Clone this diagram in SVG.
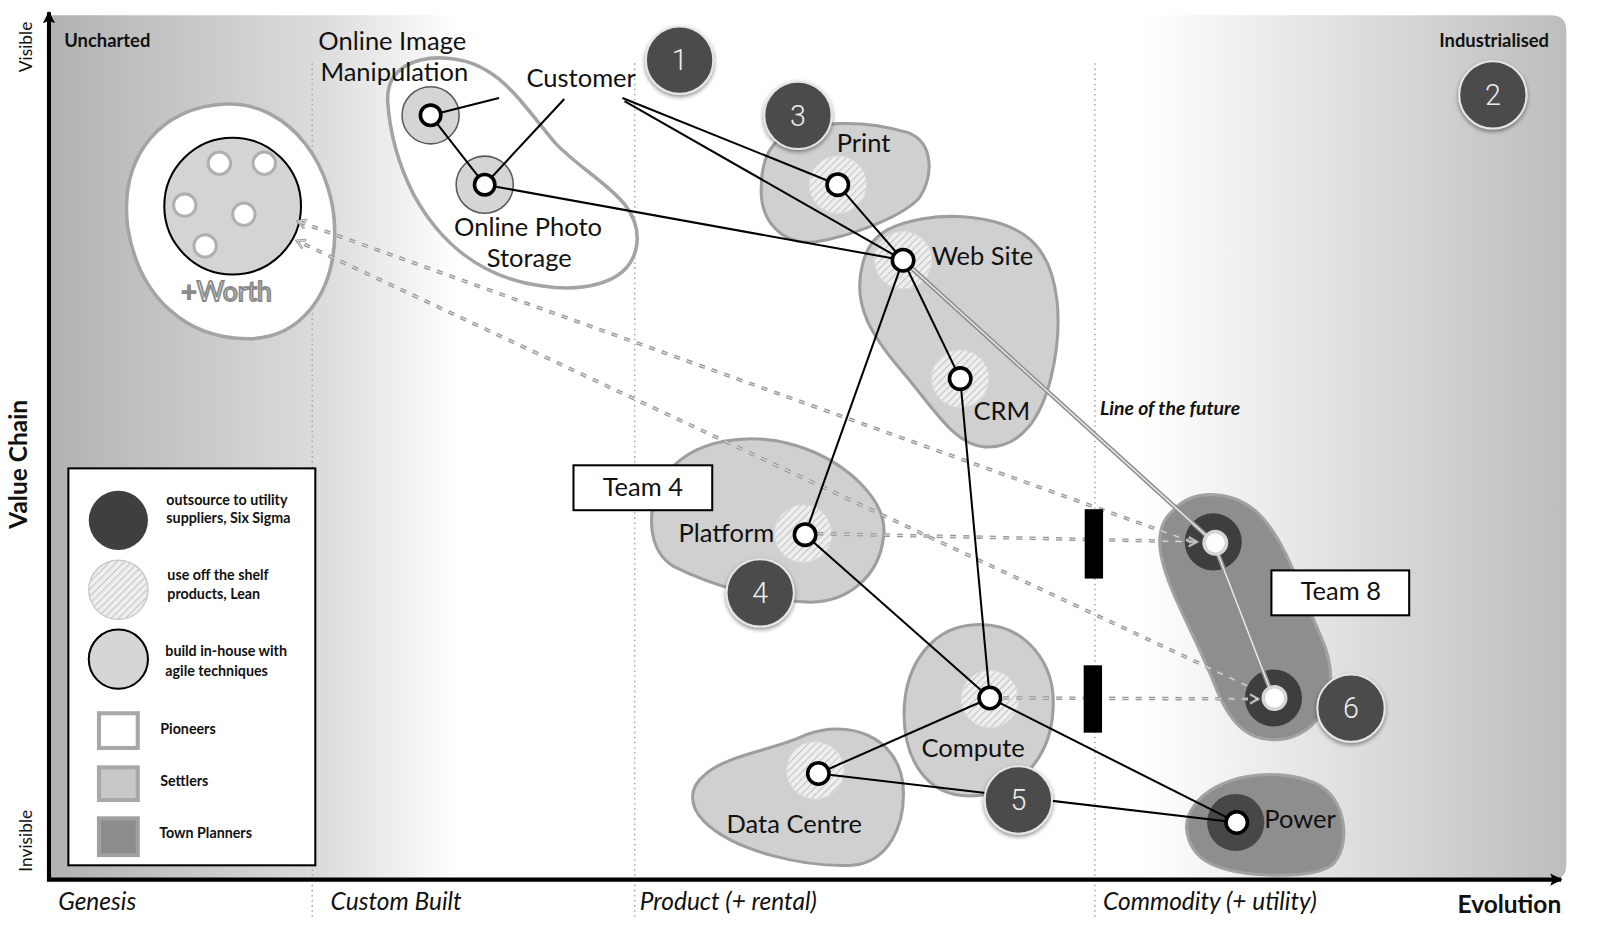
<svg xmlns="http://www.w3.org/2000/svg" width="1600" height="929" viewBox="0 0 1600 929">
<defs>
<linearGradient id="bg" x1="48" y1="0" x2="1535" y2="0" gradientUnits="userSpaceOnUse">
<stop offset="0" stop-color="#b2b2b2"/>
<stop offset="0.18" stop-color="#dcdcdc"/>
<stop offset="0.27" stop-color="#ffffff"/>
<stop offset="0.72" stop-color="#ffffff"/>
<stop offset="1" stop-color="#bdbdbd"/>
</linearGradient>
<pattern id="hatch" patternUnits="userSpaceOnUse" width="5" height="5" patternTransform="rotate(45)">
<rect width="5" height="5" fill="#eeeeee"/>
<line x1="0" y1="0" x2="0" y2="5" stroke="#c2c2c2" stroke-width="2"/>
</pattern>
<filter id="sh" x="-30%" y="-30%" width="160%" height="160%">
<feDropShadow dx="0" dy="2" stdDeviation="2" flood-color="#000" flood-opacity="0.45"/>
</filter>
<marker id="arr" viewBox="0 0 12 12" refX="10" refY="6" markerWidth="12" markerHeight="12" markerUnits="userSpaceOnUse" orient="auto">
<path d="M2,1.5 L10,6 L2,10.5" fill="none" stroke="#9a9a9a" stroke-width="2.5"/>
<path d="M2,1.5 L10,6 L2,10.5" fill="none" stroke="#e2e2e2" stroke-width="0.8"/>
</marker>
<marker id="axh" viewBox="0 0 10 10" refX="9" refY="5" markerWidth="12" markerHeight="12" markerUnits="userSpaceOnUse" orient="auto">
<path d="M0,0 L10,5 L0,10 L2,5 Z" fill="#000"/>
</marker>
<style>
.t{font-family:Lato,"Noto Sans","Liberation Sans",sans-serif;fill:#111;font-size:25px}
.axl{font-family:Lato,"Noto Sans",sans-serif;font-style:italic;font-size:24px;fill:#111}
.hd{font-family:Lato,"Noto Sans",sans-serif;font-weight:bold;font-size:18px;fill:#111}
.lg{font-family:Lato,"Noto Sans",sans-serif;font-weight:bold;font-size:14px;fill:#111}
.num{font-family:Roboto,"Liberation Sans",sans-serif;font-weight:300;font-size:28px;fill:#eeeeee;text-anchor:middle}
.settler{fill:#d0d0d0;stroke:#9e9e9e;stroke-width:3}
.pioneer{fill:#ffffff;stroke:#a4a4a4;stroke-width:3.5}
.planner{fill:#8e8e8e;stroke:#a2a2a2;stroke-width:3}
.hcirc{fill:url(#hatch);stroke:#dddddd;stroke-width:1}
.node{fill:#ffffff;stroke:#000;stroke-width:3.5}
.wnode{fill:#ffffff;stroke:#d6d6d6;stroke-width:3.5}
.dark{fill:#3e3e3e}
.badge{fill:#4b4b4b;stroke:#e6e6e6;stroke-width:2;filter:url(#sh)}
.solid{stroke:#000;stroke-width:2;fill:none}
.dash1{stroke:#989898;stroke-width:3.5;stroke-dasharray:6 7;fill:none}
.dash2{stroke:#e4e4e4;stroke-width:1;stroke-dasharray:6 7;fill:none}
.dot{stroke:#a8a8a8;stroke-width:1.5;stroke-dasharray:1.5 3.5}
.box{fill:#ffffff;stroke:#000;stroke-width:2}
</style>
</defs>
<rect width="1600" height="929" fill="#ffffff"/>
<g transform="scale(1.020408)">
<g id="background">
<path d="M48,15 H1520 Q1535,15 1535,30 V848 Q1535,862 1521,862 H48 Z" fill="url(#bg)"/>
<line class="dot" x1="306" y1="62" x2="306" y2="902"/>
<line class="dot" x1="622" y1="62" x2="622" y2="902"/>
<line class="dot" x1="1073" y1="62" x2="1073" y2="902"/>
</g>
<g id="axes">
<line x1="48" y1="862" x2="48" y2="12" stroke="#000" stroke-width="4" marker-end="url(#axh)"/>
<line x1="46" y1="862" x2="1530" y2="862" stroke="#000" stroke-width="4" marker-end="url(#axh)"/>
<text class="t" transform="translate(31,46) rotate(-90)" text-anchor="middle" style="font-size:17px">Visible</text>
<text class="t" transform="translate(31,824) rotate(-90)" text-anchor="middle" style="font-size:17px">Invisible</text>
<text class="t" transform="translate(26,455) rotate(-90)" text-anchor="middle" style="font-size:24px;font-weight:bold">Value Chain</text>
<text class="hd" x="63" y="46">Uncharted</text>
<text class="hd" x="1518" y="46" text-anchor="end">Industrialised</text>
<text class="axl" x="57" y="892">Genesis</text>
<text class="axl" x="324" y="892">Custom Built</text>
<text class="axl" x="627" y="892">Product (+ rental)</text>
<text class="axl" x="1081" y="892">Commodity (+ utility)</text>
<text class="hd" x="1530" y="895" text-anchor="end" style="font-size:24px">Evolution</text>
<text class="hd" x="1078" y="407" style="font-style:italic;font-size:19px">Line of the future</text>
</g>
<g id="legend">
<rect class="box" x="67" y="459" width="242" height="389"/>
<circle cx="116" cy="510" r="29" fill="#3f3f3f"/>
<text class="lg" x="163" y="495">outsource to utility</text>
<text class="lg" x="163" y="513">suppliers, Six Sigma</text>
<circle cx="116" cy="578" r="29" fill="url(#hatch)" stroke="#cccccc" stroke-width="1.5"/>
<text class="lg" x="164" y="568">use off the shelf</text>
<text class="lg" x="164" y="587">products, Lean</text>
<circle cx="116" cy="646" r="29" fill="#d6d6d6" stroke="#000" stroke-width="2"/>
<text class="lg" x="162" y="643">build in-house with</text>
<text class="lg" x="162" y="662">agile techniques</text>
<rect x="97" y="699" width="38" height="34" fill="#ffffff" stroke="#a8a8a8" stroke-width="4"/>
<text class="lg" x="157" y="719">Pioneers</text>
<rect x="97" y="752" width="38" height="32" fill="#c8c8c8" stroke="#a8a8a8" stroke-width="4"/>
<text class="lg" x="157" y="770">Settlers</text>
<rect x="97" y="802" width="38" height="36" fill="#8c8c8c" stroke="#a0a0a0" stroke-width="4"/>
<text class="lg" x="156" y="821">Town Planners</text>
</g>
<g id="worth">
<path class="pioneer" d="M222,102 C285,100 330,165 328,232 C326,292 292,332 243,332 C183,332 136,292 125,222 C117,152 158,104 222,102 Z"/>
<circle cx="228" cy="202" r="67" fill="#d4d4d4" stroke="#000" stroke-width="2"/>
<circle cx="215" cy="160" r="11" fill="#fff" stroke="#b0b0b0" stroke-width="3"/>
<circle cx="259" cy="160" r="11" fill="#fff" stroke="#b0b0b0" stroke-width="3"/>
<circle cx="181" cy="201" r="11" fill="#fff" stroke="#b0b0b0" stroke-width="3"/>
<circle cx="239" cy="210" r="11" fill="#fff" stroke="#b0b0b0" stroke-width="3"/>
<circle cx="201" cy="241" r="11" fill="#fff" stroke="#b0b0b0" stroke-width="3"/>
<text x="222" y="295" text-anchor="middle" style="font-family:Lato,'Noto Sans',sans-serif;font-size:26px;fill:#ffffff;stroke:#8a8a8a;stroke-width:1.8">+Worth</text>
</g>
<g id="online">
<path class="pioneer" d="M380,100 C378,66 408,55 438,57 C488,60 510,100 544,140 C578,176 630,195 624,240 C618,281 566,286 530,280 C470,272 430,236 405,190 C390,160 382,130 380,100 Z"/>
<circle cx="422" cy="113" r="28" fill="#d5d5d5" stroke="#5a5a5a" stroke-width="1.5"/>
<circle cx="475" cy="181" r="28" fill="#d5d5d5" stroke="#5a5a5a" stroke-width="1.5"/>
<text class="t" x="312" y="49">Online Image</text>
<text class="t" x="314" y="79">Manipulation</text>
<text class="t" x="445" y="231">Online Photo</text>
<text class="t" x="477" y="262">Storage</text>
</g>
<g id="blobs">
<path id="print-blob" class="settler" d="M760,140 C790,115 850,118 890,130 C916,140 915,175 900,195 C880,215 830,232 800,237 C765,241 745,215 746,185 C746,165 750,150 760,140 Z"/>
<path id="website-blob" class="settler" d="M870,225 C910,205 980,208 1010,235 C1040,262 1042,320 1030,370 C1020,410 1000,440 965,438 C935,436 915,400 885,365 C855,330 835,300 845,260 C850,240 858,232 870,225 Z"/>
<path id="platform-blob" class="settler" d="M650,470 C672,430 740,420 790,440 C830,455 870,490 866,525 C862,565 830,592 790,590 C750,588 700,575 660,555 C635,540 632,500 650,470 Z"/>
<path id="compute-blob" class="settler" d="M960,612 C1005,612 1035,650 1032,695 C1030,740 1000,780 950,780 C905,780 886,740 886,700 C886,650 915,612 960,612 Z"/>
<path id="dc-blob" class="settler" d="M690,760 C710,740 760,735 790,720 C830,705 880,720 885,770 C888,810 870,845 835,848 C790,850 720,835 690,805 C675,790 675,772 690,760 Z"/>
<path id="team8-blob" class="planner" d="M1150,500 C1170,478 1210,480 1235,505 C1260,530 1275,580 1295,625 C1315,670 1300,715 1260,724 C1225,730 1205,710 1190,670 C1170,620 1145,580 1138,545 C1134,525 1138,510 1150,500 Z"/>
<path id="power-blob" class="planner" d="M1170,790 C1190,760 1250,750 1290,768 C1320,782 1325,830 1305,848 C1285,862 1220,860 1190,848 C1165,838 1155,810 1170,790 Z"/>
<circle class="hcirc" cx="821" cy="181" r="28"/>
<circle class="hcirc" cx="885" cy="255" r="28"/>
<circle class="hcirc" cx="941" cy="371" r="28"/>
<circle class="hcirc" cx="787" cy="523" r="28"/>
<circle class="hcirc" cx="970" cy="685" r="28"/>
<circle class="hcirc" cx="799" cy="755" r="28"/>
<circle class="dark" cx="1189" cy="531" r="28"/>
<circle class="dark" cx="1248" cy="684" r="28"/>
<circle class="dark" cx="1211" cy="806" r="28" style="fill:#474747"/>
</g>
<g id="connectors">
<g id="evolution-dashed">
<path class="dash1" d="M1168,531 L292,217" marker-end="url(#arr)"/>
<path class="dash2" d="M1168,531 L292,217"/>
<path class="dash1" d="M1222,672 L291,236" marker-end="url(#arr)"/>
<path class="dash2" d="M1222,672 L291,236"/>
<path class="dash1" d="M801,523 L1173,531" marker-end="url(#arr)"/>
<path class="dash2" d="M801,523 L1173,531"/>
<path class="dash1" d="M983,684 L1233,685" marker-end="url(#arr)"/>
<path class="dash2" d="M983,684 L1233,685"/>
</g>
<g id="future-line">
<path d="M885,255 L1189,531 L1248,684" fill="none" stroke="#8e8e8e" stroke-width="4.5"/>
<path d="M885,255 L1189,531 L1248,684" fill="none" stroke="#e8e8e8" stroke-width="1.5"/>
</g>
<g id="solid-links">
<line class="solid" x1="489" y1="96" x2="422" y2="113"/>
<line class="solid" x1="553" y1="97" x2="475" y2="181"/>
<line class="solid" x1="422" y1="113" x2="475" y2="181"/>
<line class="solid" x1="610" y1="96" x2="821" y2="181"/>
<line class="solid" x1="612" y1="99" x2="885" y2="255"/>
<line class="solid" x1="475" y1="181" x2="885" y2="255"/>
<line class="solid" x1="821" y1="181" x2="885" y2="255"/>
<line class="solid" x1="885" y1="255" x2="941" y2="371"/>
<line class="solid" x1="885" y1="255" x2="789" y2="524"/>
<line class="solid" x1="941" y1="371" x2="970" y2="684"/>
<line class="solid" x1="789" y1="524" x2="970" y2="684"/>
<line class="solid" x1="970" y1="684" x2="802" y2="758"/>
<line class="solid" x1="970" y1="684" x2="1212" y2="806"/>
<line class="solid" x1="802" y1="758" x2="1212" y2="806"/>
</g>
<g id="bars">
<rect x="1063" y="499" width="18" height="68" fill="#000"/>
<rect x="1062" y="652" width="18" height="66" fill="#000"/>
</g>
</g>
<g id="nodes">
<circle class="node" cx="422" cy="113" r="10"/>
<circle class="node" cx="475" cy="181" r="10"/>
<circle class="node" cx="821" cy="181" r="10.5"/>
<circle class="node" cx="885" cy="255" r="10.5"/>
<circle class="node" cx="941" cy="371" r="10.5"/>
<circle class="node" cx="789" cy="524" r="10.5"/>
<circle class="node" cx="970" cy="684" r="10.5"/>
<circle class="node" cx="802" cy="758" r="10.5"/>
<circle class="node" cx="1212" cy="806" r="10.5"/>
<circle class="wnode" cx="1191" cy="532" r="11"/>
<circle class="wnode" cx="1249" cy="684" r="11"/>
</g>
<g id="labels">
<text class="t" x="516" y="85">Customer</text>
<text class="t" x="820" y="149">Print</text>
<text class="t" x="913" y="260">Web Site</text>
<text class="t" x="954" y="412">CRM</text>
<text class="t" x="665" y="531">Platform</text>
<text class="t" x="903" y="742">Compute</text>
<text class="t" x="712" y="816">Data Centre</text>
<text class="t" x="1239" y="811">Power</text>
</g>
<g id="team4">
<rect class="box" x="562" y="456" width="136" height="44"/>
<text class="t" x="630" y="486" text-anchor="middle">Team 4</text>
</g>
<g id="team8">
<rect class="box" x="1246" y="559" width="135" height="44"/>
<text class="t" x="1314" y="588" text-anchor="middle">Team 8</text>
</g>
<g id="badges">
<g id="b1"><circle class="badge" cx="666" cy="59" r="33"/><text class="num" x="666" y="69">1</text></g>
<g id="b2"><circle class="badge" cx="1463" cy="93" r="33"/><text class="num" x="1463" y="103">2</text></g>
<g id="b3"><circle class="badge" cx="782" cy="113" r="33"/><text class="num" x="782" y="123">3</text></g>
<g id="b4"><circle class="badge" cx="745" cy="581" r="33"/><text class="num" x="745" y="591">4</text></g>
<g id="b5"><circle class="badge" cx="998" cy="784" r="33"/><text class="num" x="998" y="794">5</text></g>
<g id="b6"><circle class="badge" cx="1324" cy="694" r="33"/><text class="num" x="1324" y="704">6</text></g>
</g>
</g>
</svg>
